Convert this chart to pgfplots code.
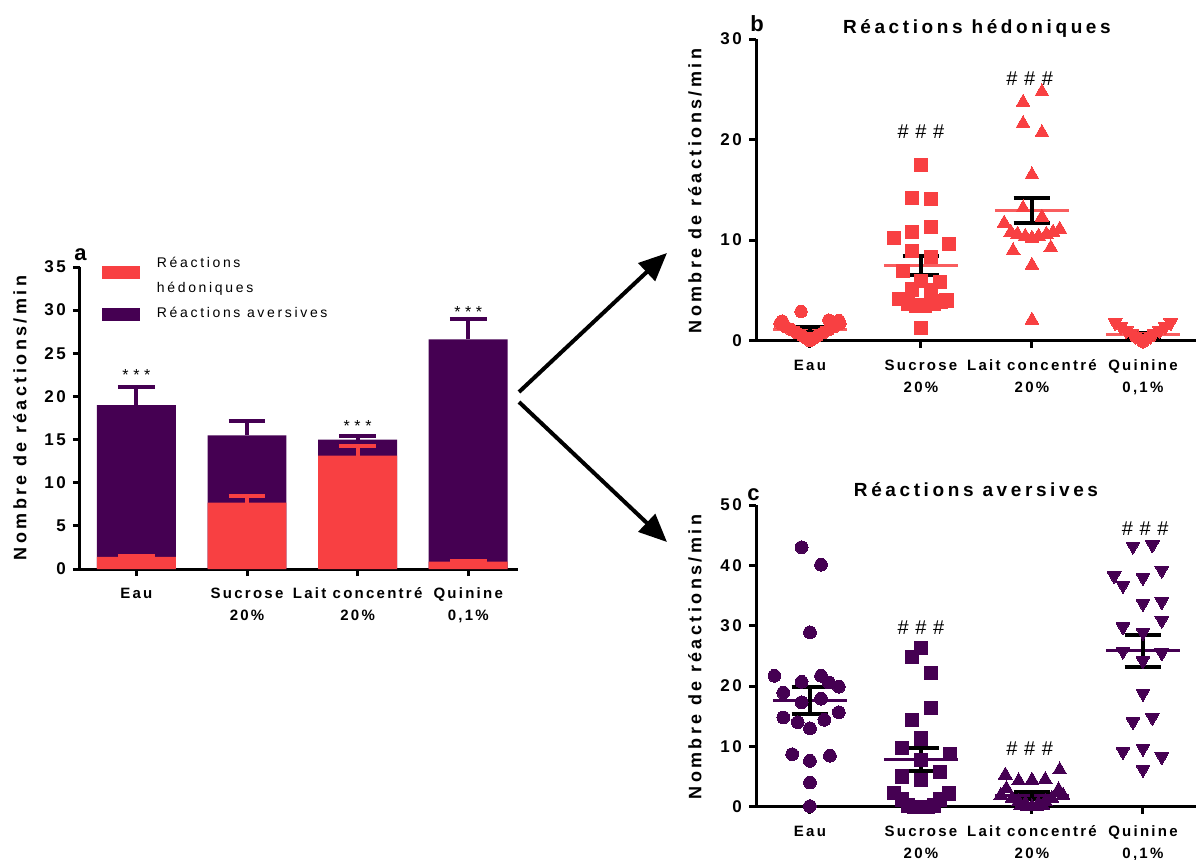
\documentclass[border=0pt]{standalone}
\usepackage{fontspec}
\setmainfont{Liberation Sans}
\newfontfamily\tkfam[LetterSpace=15]{Liberation Sans}
\newfontfamily\lbfam[LetterSpace=19]{Liberation Sans}
\usepackage{pgfplots}
\usepackage{pgfplotstable}
\pgfplotsset{compat=1.18}
\usetikzlibrary{arrows.meta}
\definecolor{hred}{RGB}{248,64,66}
\definecolor{apurp}{RGB}{69,0,82}
\newcommand\tickfont{\tkfam\bfseries\fontsize{7.5}{11}\selectfont}
\newcommand\ytickfont{\tkfam\bfseries\fontsize{8.5}{10}\selectfont}
\newcommand\labfont{\lbfam\bfseries\fontsize{9}{10}\selectfont}
\newcommand\titfont{\lbfam\bfseries\fontsize{9.5}{11}\selectfont}
\newcommand\legfont{\lbfam\fontsize{7}{12.5}\selectfont}
\newcommand\starfont{\fontsize{8}{9}\selectfont}
\newcommand\hashfont{\fontsize{10}{11}\selectfont}
\newcommand\stars{*\hspace{2.3pt}*\hspace{2.3pt}*}
\newcommand\hashes{\#\hspace{3.3pt}\#\hspace{3.3pt}\#}

% panel b data (hedonic)
\pgfplotstableread{
x y
-0.08 2.9
-0.25 1.95
0.17 2.05
0.26 2.0
-0.27 1.7
-0.22 1.4
-0.17 1.1
-0.12 0.8
-0.07 0.5
-0.03 0.25
0 0
0.03 0.25
0.07 0.5
0.12 0.8
0.17 1.1
0.22 1.4
0.27 1.7
}\bEau
\pgfplotstableread{
x y
1.00 17.5
0.92 14.2
1.09 14.1
1.09 11.3
0.92 10.8
0.76 10.2
1.25 9.65
0.92 8.9
1.09 8.35
0.84 6.9
1.00 5.9
1.17 5.8
0.92 5.1
1.09 5.0
0.80 4.15
1.23 4.0
0.88 3.7
0.96 3.5
1.04 3.5
1.12 3.7
1.18 3.9
1.00 1.3
}\bSuc
\pgfplotstableread{
x y
2.09 24.75
1.92 23.7
1.92 21.6
2.09 20.7
2.00 16.5
1.92 13.2
2.09 12.3
1.75 11.7
2.25 11.1
1.81 10.8
1.87 10.6
1.94 10.4
2.00 10.2
2.06 10.4
2.13 10.6
2.19 10.8
1.83 8.95
2.17 9.25
2.00 7.5
2.00 2.05
}\bLait
\pgfplotstableread{
x y
2.75 1.8
3.25 1.8
2.80 1.4
3.20 1.4
2.85 1.0
3.15 1.0
2.90 0.7
3.10 0.7
2.93 0.45
3.07 0.45
2.96 0.25
3.04 0.25
3.00 0.0
2.98 0.1
3.02 0.1
3.00 0.05
}\bQui
% panel c data (aversive)
\pgfplotstableread{
x y
-0.075 43.0
0.10 40.1
0.00 28.9
-0.32 21.7
0.10 21.7
-0.075 20.7
0.17 20.6
0.26 19.9
-0.24 18.9
-0.075 17.3
0.10 17.9
-0.24 14.8
0.26 15.65
-0.11 14.0
0.13 14.4
0.00 13.0
-0.16 8.7
0.18 8.45
0.00 7.6
0.00 4.0
0.00 0.1
}\cEau
\pgfplotstableread{
x y
1.00 26.3
0.92 24.8
1.09 22.1
1.09 16.3
0.92 14.4
1.00 11.3
0.83 9.7
1.26 8.7
1.00 7.8
0.83 5.0
1.17 5.7
1.00 4.4
0.76 2.3
1.25 2.2
0.83 1.2
1.17 1.2
0.88 0.2
0.94 0.0
1.00 0.0
1.06 0.0
1.12 0.2
}\cSuc
\pgfplotstableread{
x y
2.25 6.1
1.76 5.25
1.88 4.3
2.00 4.4
2.12 4.5
1.77 3.0
2.24 2.8
1.72 1.9
2.28 1.9
1.82 1.4
2.18 1.4
1.88 0.9
2.12 0.9
1.94 0.5
2.06 0.5
1.90 0.2
2.10 0.2
2.00 0.0
1.96 0.0
2.04 0.0
}\cLait
\pgfplotstableread{
x y
2.91 43.2
3.085 43.4
3.17 39.2
2.74 38.3
3.00 38.0
2.82 36.7
3.00 33.7
3.17 34.0
3.17 30.9
2.82 29.8
3.00 28.9
2.82 25.8
3.17 25.5
3.00 24.2
3.00 18.8
2.91 14.1
3.085 14.8
2.82 9.15
3.00 9.7
3.17 8.3
3.00 6.2
}\cQui

\pgfplotsset{
  common/.style={
    anchor=south west, scale only axis, clip=false,
    axis lines=left, axis line style={-, line width=1.5pt},
    tick style={line width=1.5pt, black}, major tick length=3.5pt, tick align=outside,
    xtick={0,1,2,3},
    xticklabels={{\strut Eau},{\strut Sucrose\\20\%},{\strut Lait concentré\\20\%},{\strut Quinine\\0,1\%}},
    xticklabel style={font=\tickfont, align=center, anchor=north},
    yticklabel style={font=\ytickfont},
    ylabel={Nombre de réactions/min},
    every axis title shift=0pt,
  },
  scat/.style={only marks, forget plot},
}

\begin{document}
\begin{tikzpicture}
\path[use as bounding box] (0,0) rectangle (598pt,-429.5pt);

% ---------------- panel a ----------------
\begin{axis}[common,
  at={(40pt,-284.5pt)}, width=219pt, height=151pt,
  xmin=-0.51, xmax=3.45, ymin=0, ymax=35,
  ytick={0,5,10,15,20,25,30,35}, yticklabels={0,5,10,15,20,25,30,35},
  ylabel style={font=\labfont, at={(axis description cs:-0.137,0.5)}, anchor=center},
  legend style={at={(axis description cs:0.0502,1.031)}, anchor=north west, draw=none, fill=none,
    inner sep=0pt, outer sep=0pt, column sep=8.5pt, row sep=5.7pt, font=\legfont,
    nodes={align=left, inner sep=0pt, anchor=west}},
]
\addlegendimage{fill=hred, draw=none, legend image code/.code={\fill[hred] (0pt,-1pt) rectangle (19pt,5.5pt);}}
\addlegendentry{Réactions\\hédoniques}
\addlegendimage{fill=apurp, draw=none, legend image code/.code={\fill[apurp] (0pt,-3.25pt) rectangle (19pt,3.25pt);}}
\addlegendentry{Réactions aversives}
% total (aversive on top of hedonic)
\addplot[ybar, bar width=0.714, bar shift=0pt, fill=apurp, draw=none, forget plot]
  coordinates {(0,19.0) (1,15.5) (2,15.0) (3,26.6)};
\addplot[apurp, line width=2pt, unbounded coords=jump, forget plot] coordinates {
  (0,19.0) (0,21.1) (0,nan) (-0.167,21.1) (0.167,21.1) (0,nan)
  (1,15.5) (1,17.2) (1,nan) (0.833,17.2) (1.167,17.2) (1,nan)
  (2,15.0) (2,15.4) (2,nan) (1.833,15.4) (2.167,15.4) (2,nan)
  (3,26.6) (3,29.0) (3,nan) (2.833,29.0) (3.167,29.0)};
\addplot[ybar, bar width=0.714, bar shift=0pt, fill=hred, draw=none, forget plot]
  coordinates {(0,1.4) (1,7.7) (2,13.15) (3,0.85)};
\addplot[hred, line width=2pt, unbounded coords=jump, forget plot] coordinates {
  (0,1.4) (0,1.55) (0,nan) (-0.167,1.55) (0.167,1.55) (0,nan)
  (1,7.7) (1,8.45) (1,nan) (0.833,8.45) (1.167,8.45) (1,nan)
  (2,13.15) (2,14.2) (2,nan) (1.833,14.2) (2.167,14.2) (2,nan)
  (3,0.85) (3,0.95) (3,nan) (2.833,0.95) (3.167,0.95)};
\node[font=\starfont, anchor=base] at (axis cs:0,21.85) {\stars};
\node[font=\starfont, anchor=base] at (axis cs:2,15.98) {\stars};
\node[font=\starfont, anchor=base] at (axis cs:3,29.12) {\stars};
\end{axis}

% ---------------- panel b ----------------
\begin{axis}[common,
  at={(378pt,-170.35pt)}, width=220pt, height=150.85pt,
  xmin=-0.486, xmax=3.478, ymin=0, ymax=30,
  ytick={0,10,20,30}, yticklabels={0,10,20,30},
  ylabel style={font=\labfont, at={(axis description cs:-0.139,0.496)}, anchor=center},
  title={Réactions hédoniques},
  title style={font=\titfont, at={(axis description cs:0.502,1.019)}, anchor=base},
]
\addplot[scat, hred, mark=*, mark size=3.1pt, mark options={line width=0pt}] table {\bEau};
\addplot[scat, hred, mark=square*, mark size=3.3pt, mark options={line width=0pt}] table {\bSuc};
\addplot[scat, hred, mark=triangle*, mark size=4pt, mark options={line width=0pt}] table {\bLait};
\addplot[scat, hred, mark=triangle*, mark size=4pt, mark options={rotate=180, line width=0pt}] table {\bQui};
\addplot[hred!85!white, line width=1.5pt, unbounded coords=jump, forget plot] coordinates {
  (-0.333,1.13) (0.333,1.13) (0,nan) (0.667,7.46) (1.333,7.46) (1,nan)
  (1.667,12.9) (2.333,12.9) (2,nan) (2.667,0.62) (3.333,0.62)};
\addplot[black, line width=2pt, unbounded coords=jump, forget plot] coordinates {
  (-0.165,1.36) (0.165,1.36) (0,nan) (-0.165,0.83) (0.165,0.83) (0,nan) (0,0.83) (0,1.36) (0,nan)
  (0.835,8.42) (1.165,8.42) (1,nan) (0.835,6.49) (1.165,6.49) (1,nan) (1,6.49) (1,8.42) (1,nan)
  (1.835,14.15) (2.165,14.15) (2,nan) (1.835,11.7) (2.165,11.7) (2,nan) (2,11.7) (2,14.15) (2,nan)
  (2.835,0.80) (3.165,0.80) (3,nan) (2.835,0.40) (3.165,0.40) (3,nan) (3,0.40) (3,0.80)};
\node[font=\hashfont, anchor=base] at (axis cs:1,20.1) {\hashes};
\node[font=\hashfont, anchor=base] at (axis cs:1.98,25.4) {\hashes};
\end{axis}

% ---------------- panel c ----------------
\begin{axis}[common,
  at={(378pt,-403.35pt)}, width=220pt, height=150.85pt,
  xmin=-0.486, xmax=3.478, ymin=0, ymax=50,
  ytick={0,10,20,30,40,50}, yticklabels={0,10,20,30,40,50},
  ylabel style={font=\labfont, at={(axis description cs:-0.139,0.496)}, anchor=center},
  title={Réactions aversives},
  title style={font=\titfont, at={(axis description cs:0.5,1.0275)}, anchor=base},
]
\addplot[scat, apurp, mark=*, mark size=3.2pt, mark options={line width=0pt}] table {\cEau};
\addplot[scat, apurp, mark=square*, mark size=3.3pt, mark options={line width=0pt}] table {\cSuc};
\addplot[scat, apurp, mark=triangle*, mark size=4pt, mark options={line width=0pt}] table {\cLait};
\addplot[scat, apurp, mark=triangle*, mark size=4pt, mark options={rotate=180, line width=0pt}] table {\cQui};
\addplot[apurp, line width=1.5pt, unbounded coords=jump, forget plot] coordinates {
  (-0.333,17.6) (0.333,17.6) (0,nan) (0.667,7.85) (1.333,7.85) (1,nan)
  (1.667,1.83) (2.333,1.83) (2,nan) (2.667,25.9) (3.333,25.9)};
\addplot[black, line width=2pt, unbounded coords=jump, forget plot] coordinates {
  (-0.165,19.8) (0.165,19.8) (0,nan) (-0.165,15.3) (0.165,15.3) (0,nan) (0,15.3) (0,19.8) (0,nan)
  (0.835,9.7) (1.165,9.7) (1,nan) (0.835,5.9) (1.165,5.9) (1,nan) (1,5.9) (1,9.7) (1,nan)
  (1.835,2.4) (2.165,2.4) (2,nan) (1.835,1.28) (2.165,1.28) (2,nan) (2,1.28) (2,2.4) (2,nan)
  (2.835,28.5) (3.165,28.5) (3,nan) (2.835,23.1) (3.165,23.1) (3,nan) (3,23.1) (3,28.5)};
\node[font=\hashfont, anchor=base] at (axis cs:1,28.6) {\hashes};
\node[font=\hashfont, anchor=base] at (axis cs:1.98,8.55) {\hashes};
\node[font=\hashfont, anchor=base] at (axis cs:3.02,44.9) {\hashes};
\end{axis}

% panel letters
\node[anchor=base west, inner sep=0pt, font=\bfseries\fontsize{11}{12}\selectfont] at (37pt,-130pt) {a};
\node[anchor=base west, inner sep=0pt, font=\bfseries\fontsize{11}{12}\selectfont] at (375pt,-15.85pt) {b};
\node[anchor=base west, inner sep=0pt, font=\bfseries\fontsize{11}{12}\selectfont] at (373.5pt,-250pt) {c};

% arrows
\draw[line width=2pt, -{Triangle[length=14pt,width=12pt]}] (259.5pt,-196pt) -- (333.5pt,-126.5pt);
\draw[line width=2pt, -{Triangle[length=14pt,width=12pt]}] (259.5pt,-201pt) -- (333.5pt,-271pt);
\end{tikzpicture}
\end{document}
